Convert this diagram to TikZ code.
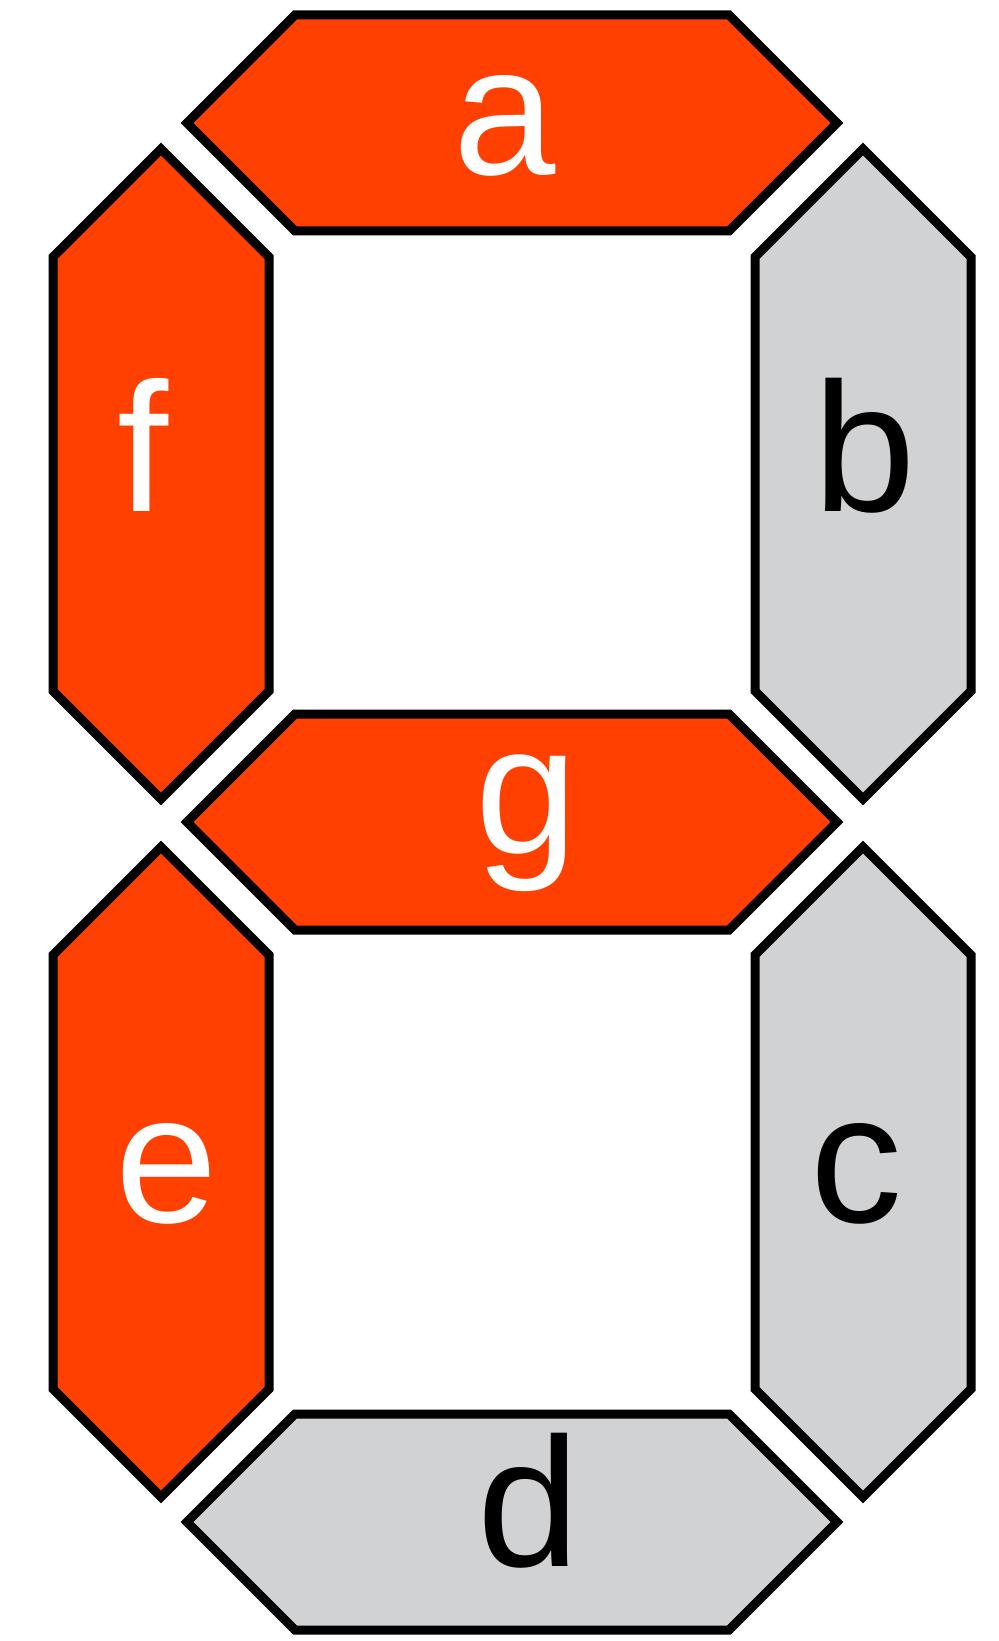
\documentclass[tikz,border=0pt]{standalone}
\usepackage{fontspec}
\setmainfont{Liberation Sans}
\definecolor{segred}{HTML}{FF4000}
\definecolor{seggray}{HTML}{D1D2D4}
\tikzset{
  segon/.style={draw=black,fill=segred,line width=4.5pt},
  segoff/.style={draw=black,fill=seggray,line width=4.5pt},
  labon/.style={white,anchor=base,inner sep=0pt,font=\fontsize{92}{92}\selectfont},
  laboff/.style={black,anchor=base,inner sep=0pt,font=\fontsize{92}{92}\selectfont}
}
\begin{document}
\begin{tikzpicture}[x=0.5pt,y=-0.5pt]
  \useasboundingbox (0,0) rectangle (999,1641);
  % horizontal segments a, g, d
  \draw[segon,shift={(512,123)}] (-325,0) -- (-217,-108) -- (217,-108) -- (325,0) -- (217,108) -- (-217,108) -- cycle;
  \draw[segon,shift={(512,822)}] (-325,0) -- (-217,-108) -- (217,-108) -- (325,0) -- (217,108) -- (-217,108) -- cycle;
  \draw[segoff,shift={(512,1522)}] (-325,0) -- (-217,-108) -- (217,-108) -- (325,0) -- (217,108) -- (-217,108) -- cycle;
  % vertical segments f, b, e, c
  \draw[segon,shift={(161,474)}] (0,-325) -- (108,-217) -- (108,217) -- (0,325) -- (-108,217) -- (-108,-217) -- cycle;
  \draw[segoff,shift={(863,474)}] (0,-325) -- (108,-217) -- (108,217) -- (0,325) -- (-108,217) -- (-108,-217) -- cycle;
  \draw[segon,shift={(161,1172)}] (0,-325) -- (108,-217) -- (108,217) -- (0,325) -- (-108,217) -- (-108,-217) -- cycle;
  \draw[segoff,shift={(863,1172)}] (0,-325) -- (108,-217) -- (108,217) -- (0,325) -- (-108,217) -- (-108,-217) -- cycle;
  % labels
  \node[labon] (la) at (505,175) {a};
  \node[laboff] (lb) at (865,512) {b};
  \node[laboff] (lc) at (856,1222) {c};
  \node[laboff] (ld) at (529,1566) {d};
  \node[labon] (le) at (167,1222) {e};
  \node[labon] (lf) at (143,512) {f};
  \node[labon] (lg) at (527,853) {g};
\end{tikzpicture}
\end{document}
